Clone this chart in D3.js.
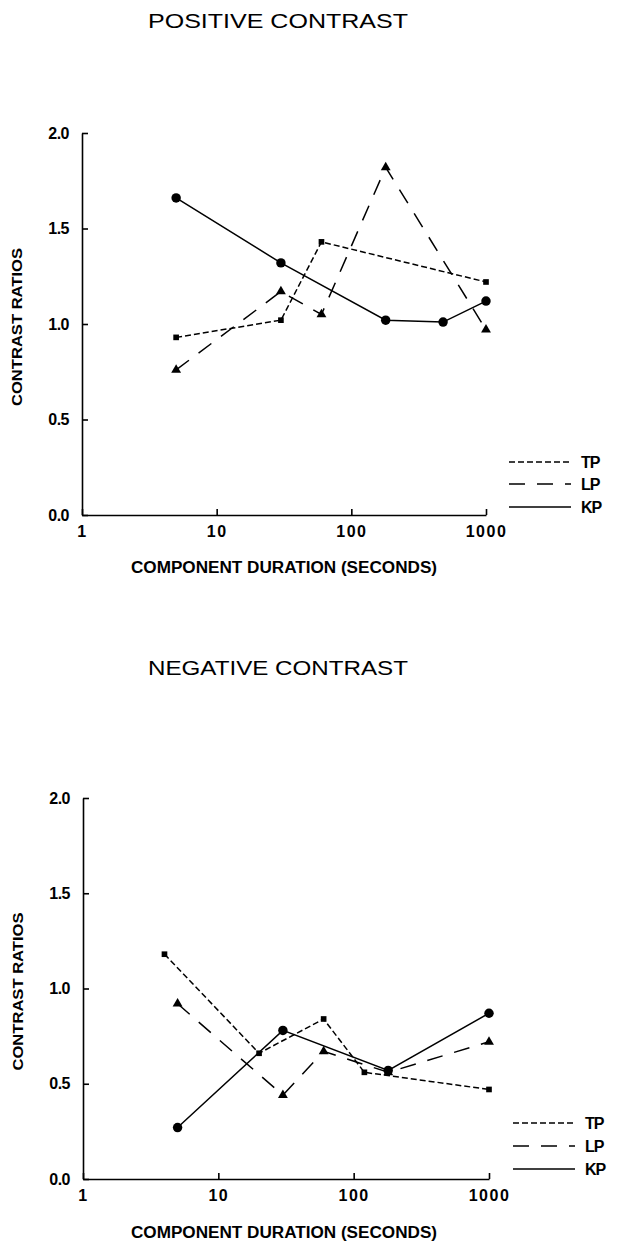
<!DOCTYPE html>
<html lang="en">
<head>
  <meta charset="utf-8">
  <title>Contrast Ratios</title>
  <script src="https://d3js.org/d3.v7.min.js"></script>
  <style>
    body { margin: 0; background: #fff; }
    svg { display: block; font-family: "Liberation Sans", Arial, sans-serif; }
    .tick text { font-size: 16px; font-weight: bold; }
    .axis path, .axis line { stroke: #000; stroke-width: 1.6; }
  </style>
</head>
<body>
<svg id="chart" width="618" height="1241"></svg>
<script>
// tick values
var xTicks = [1, 10, 100, 1000],
    yTicks = [0, 0.5, 1.0, 1.5, 2.0];

// positive contrast (duration in seconds, ratio)
var posTP_x = [5, 30, 60, 1000],
    posTP_y = [0.93, 1.02, 1.43, 1.22];
var posLP_x = [5, 30, 60, 180, 1000],
    posLP_y = [0.76, 1.17, 1.05, 1.82, 0.97];
var posKP_x = [5, 30, 180, 480, 1000],
    posKP_y = [1.66, 1.32, 1.02, 1.01, 1.12];

// negative contrast
var negTP_x = [4, 20, 60, 120, 1000],
    negTP_y = [1.18, 0.66, 0.84, 0.56, 0.47];
var negLP_x = [5, 30, 60, 180, 1000],
    negLP_y = [0.92, 0.44, 0.67, 0.56, 0.72];
var negKP_x = [5, 30, 180, 1000],
    negKP_y = [0.27, 0.78, 0.57, 0.87];

var seriesNames = ["TP", "LP", "KP"];

var styles = {
  TP: {dash: "6,3", symbol: d3.symbolSquare, size: 32},
  LP: {dash: "16,12", symbol: d3.symbolTriangle, size: 42},
  KP: {dash: null, symbol: d3.symbolCircle, size: 70}
};

var svg = d3.select("#chart");

function zip(xs, ys) {
  return xs.map((d, i) => ({x: d, y: ys[i]}));
}

function panel(opt) {
  var x = d3.scaleLog().domain([1, 1000]).range([opt.left, opt.right]);
  var y = d3.scaleLinear().domain([0, 2]).range([opt.bottom, opt.top]);

  svg.append("text")
      .attr("x", 278).attr("y", opt.titleY)
      .attr("text-anchor", "middle")
      .attr("font-size", 21)
      .attr("textLength", 260).attr("lengthAdjust", "spacingAndGlyphs")
      .text(opt.title);

  svg.append("g")
      .attr("class", "axis")
      .attr("transform", "translate(" + opt.left + ",0)")
      .call(d3.axisLeft(y).tickValues(yTicks).tickFormat(d3.format(".1f"))
        .tickSize(-6).tickSizeOuter(0).tickPadding(13))
      .call(g => g.selectAll("text").attr("letter-spacing", -0.5));

  svg.append("g")
      .attr("class", "axis")
      .attr("transform", "translate(0," + opt.bottom + ")")
      .call(d3.axisBottom(x).tickValues(xTicks).tickFormat(d3.format("d"))
        .tickSize(-6).tickSizeOuter(0).tickPadding(11))
      .call(g => g.selectAll("text").attr("letter-spacing", 1.5));

  svg.append("text")
      .attr("transform", "translate(" + (opt.left - 60) + "," + ((opt.top + opt.bottom) / 2 + 3) + ") rotate(-90)")
      .attr("text-anchor", "middle")
      .attr("font-size", 15).attr("font-weight", "bold")
      .attr("textLength", 158).attr("lengthAdjust", "spacingAndGlyphs")
      .text("CONTRAST RATIOS");

  svg.append("text")
      .attr("x", 284).attr("y", opt.xTitleY)
      .attr("text-anchor", "middle")
      .attr("font-size", 16).attr("font-weight", "bold")
      .attr("textLength", 306).attr("lengthAdjust", "spacingAndGlyphs")
      .text(opt.xTitle);

  var line = d3.line().x(d => x(d.x)).y(d => y(d.y));

  opt.series.forEach(function(s) {
    var st = styles[s.name];
    svg.append("path")
        .datum(s.data)
        .attr("fill", "none")
        .attr("stroke", "#000")
        .attr("stroke-width", 1.5)
        .attr("stroke-dasharray", st.dash)
        .attr("d", line);

    svg.selectAll(null)
        .data(s.data)
      .enter().append("path")
        .attr("transform", d => "translate(" + x(d.x) + "," + y(d.y) + ")")
        .attr("d", d3.symbol().type(st.symbol).size(st.size))
        .attr("fill", "#000");
  });

  // legend
  seriesNames.forEach(function(name, i) {
    var ly = opt.legendY[i];
    svg.append("line")
        .attr("x1", opt.legendX).attr("x2", opt.legendX + 62)
        .attr("y1", ly).attr("y2", ly)
        .attr("stroke", "#000").attr("stroke-width", 1.5)
        .attr("stroke-dasharray", styles[name].dash);
    svg.append("text")
        .attr("x", opt.legendX + 72).attr("y", ly + 6)
        .attr("font-size", 16).attr("font-weight", "bold")
        .attr("letter-spacing", -1)
        .text(name);
  });
}

panel({
  title: "POSITIVE CONTRAST", titleY: 28,
  xTitle: "COMPONENT DURATION (SECONDS)", xTitleY: 573,
  left: 82, right: 486, top: 133, bottom: 515,
  legendX: 509, legendY: [462, 484, 507],
  series: [
    {name: "TP", data: zip(posTP_x, posTP_y)},
    {name: "LP", data: zip(posLP_x, posLP_y)},
    {name: "KP", data: zip(posKP_x, posKP_y)}
  ]
});

panel({
  title: "NEGATIVE CONTRAST", titleY: 675,
  xTitle: "COMPONENT DURATION (SECONDS)", xTitleY: 1238,
  left: 83, right: 489, top: 798, bottom: 1179,
  legendX: 513, legendY: [1123, 1146, 1169],
  series: [
    {name: "TP", data: zip(negTP_x, negTP_y)},
    {name: "LP", data: zip(negLP_x, negLP_y)},
    {name: "KP", data: zip(negKP_x, negKP_y)}
  ]
});
</script>
</body>
</html>
